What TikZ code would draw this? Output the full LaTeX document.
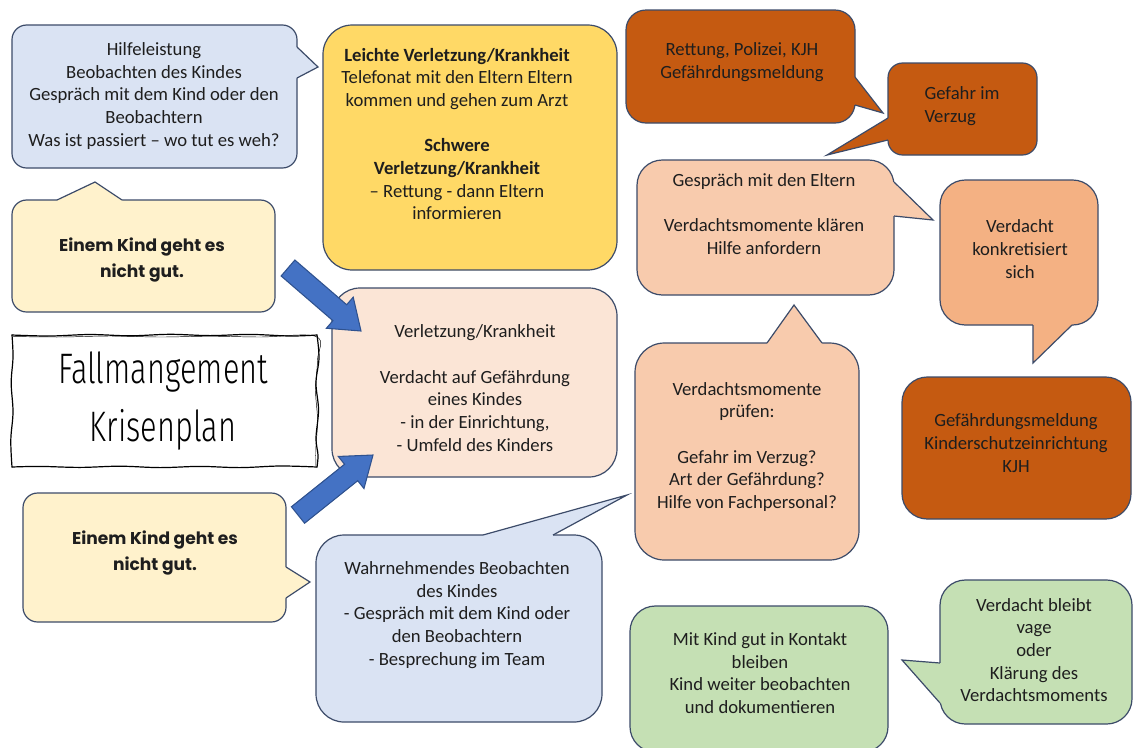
\documentclass[tikz,border=0pt]{standalone}
\usepackage{fontspec}
\setmainfont{Carlito}
\IfFontExistsTF{Poppins}{\newfontfamily\comicf{Poppins}}{\newfontfamily\comicf{DejaVu Sans}}
\IfFontExistsTF{Fira Sans Light}{\newfontfamily\handf{Fira Sans Light}}{\newfontfamily\handf{Fira Sans}}
\usetikzlibrary{calc}
\definecolor{lnc}{RGB}{60,75,105}
\definecolor{txc}{RGB}{30,30,30}
\definecolor{cblue}{HTML}{DAE3F3}
\definecolor{cyel}{HTML}{FFF2CC}
\definecolor{cgold}{HTML}{FFD966}
\definecolor{cpeachl}{HTML}{FBE5D6}
\definecolor{cpeach}{HTML}{F8CBAD}
\definecolor{corange}{HTML}{F4B183}
\definecolor{cdark}{HTML}{C55A11}
\definecolor{cgreen}{HTML}{C5E0B4}
\definecolor{arrblue}{HTML}{4472C4}
\definecolor{arrline}{HTML}{2F528F}
\newcommand\ctail[5]{%
  \fill[#1] #2 -- #3 -- #4 -- ($#4+#5$) -- ($#2+#5$) -- cycle;
  \draw[draw=lnc, line width=0.9pt, line join=miter] #2 -- #3 -- #4;}
\newcommand\blockarrow[2]{%
  \coordinate (#2-b) at ($(#2)!21pt!(#1)$);
  \draw[fill=arrblue, draw=arrline, line width=0.8pt, line join=miter]
    ($(#1)!7.9pt!90:(#2)$) -- ($(#2-b)!7.9pt!90:(#2)$) -- ($(#2-b)!15.4pt!90:(#2)$)
    -- (#2) -- ($(#2-b)!15.4pt!-90:(#2)$) -- ($(#2-b)!7.9pt!-90:(#2)$)
    -- ($(#1)!7.9pt!-90:(#2)$) -- cycle;}
\tikzset{
  rb/.style n args={4}{minimum width={(#3-#1)*0.75pt}, minimum height={(#4-#2)*0.75pt},
     at={({(#1+#3)/2},{(#2+#4)/2})}},
  bx/.style={shape=rectangle, draw=lnc, line width=0.9pt, rounded corners=#1, inner sep=0pt},
  tx/.style={align=center, font=\fontsize{14}{17}\selectfont, text=txc, inner sep=0pt},
  cx/.style={align=center, font=\comicf\bfseries\fontsize{12.8}{19.5}\selectfont, text=txc, inner sep=0pt},
  sk/.style={draw=black, line width=#1, line join=round, line cap=round},
}
\begin{document}
\begin{tikzpicture}[x=0.75pt,y=-0.75pt]
\useasboundingbox (0,0) rectangle (1134,747);
\fill[white] (0,0) rectangle (1134,747);

% Hilfeleistung
\node[bx=11pt, fill=cblue, rb={12}{25}{297}{168}] (hilfe) {};
\ctail{cblue}{(297,47)}{(318,67)}{(297,78)}{(-4,0)}
\node[tx] (hilfe-t) at (154,96) {Hilfeleistung\\Beobachten des Kindes\\Gespräch mit dem Kind oder den\\Beobachtern\\Was ist passiert – wo tut es weh?};

% Einem Kind 1
\node[bx=11pt, fill=cyel, rb={12}{200}{275}{312}] (kind1) {};
\ctail{cyel}{(57,200)}{(95,182)}{(122,200)}{(0,4)}
\node[cx] (kind1-t) at (142,260) {Einem Kind geht es\\nicht gut.};

% Title (hand-drawn frame)
\node[rb={12}{335}{317}{467}, inner sep=0pt] (title) {};
\draw[sk=0.9pt] plot[smooth, tension=0.6] coordinates {(12,335) (50,336) (90,334.5) (130,335.8) (170,334.3) (210,335.6) (250,334.4) (290,336) (317,335)};
\draw[sk=0.9pt] plot[smooth, tension=0.6] coordinates {(317,335) (319,358) (316,383) (318.5,410) (316,438) (318,455) (317,467)};
\draw[sk=0.9pt] plot[smooth, tension=0.6] coordinates {(317,467) (280,466) (240,467.6) (200,466.4) (160,467.6) (120,466.2) (80,467.4) (40,466.4) (12,467)};
\draw[sk=0.9pt] plot[smooth, tension=0.6] coordinates {(12,467) (10.8,440) (13,412) (11.2,383) (13,357) (12,335)};
\draw[sk=0.35pt] plot[smooth, tension=0.6] coordinates {(13,336.5) (60,337) (110,336) (160,337) (210,336.2) (260,337) (316,336.5) (317.5,360) (315.5,390) (317.5,420) (315.8,450) (316,466)};
\node[font=\handf\fontsize{32}{43.5}\selectfont, align=center, inner sep=0pt, text=black] (title-t) at (163,401)
  {\scalebox{0.72}[1]{Fallmangement}\\\scalebox{0.72}[1]{Krisenplan}};

% Einem Kind 2
\node[bx=11pt, fill=cyel, rb={23}{493}{286}{622}] (kind2) {};
\ctail{cyel}{(286,567)}{(310,582)}{(286,598)}{(-4,0)}
\node[cx] (kind2-t) at (155,553) {Einem Kind geht es\\nicht gut.};

% Gold box
\node[bx=22pt, fill=cgold, rb={323}{25}{617}{270}] (gold) {};
\node[tx] (gold-t) at (457,134) {\textbf{Leichte Verletzung/Krankheit}\\Telefonat mit den Eltern Eltern\\kommen und gehen zum Arzt\\[17pt]\textbf{Schwere}\\\textbf{Verletzung/Krankheit}\\– Rettung - dann Eltern\\informieren};

% Center peach box
\node[bx=21pt, fill=cpeachl, rb={332}{288}{617}{477}] (verl) {};
\node[tx] (verl-t) at (475,388) {Verletzung/Krankheit\\[17pt]Verdacht auf Gefährdung\\eines Kindes\\- in der Einrichtung,\\- Umfeld des Kinders};

% Wahrnehmendes
\node[bx=21pt, fill=cblue, rb={316}{535}{602}{722}] (wahr) {};
\ctail{cblue}{(483,535)}{(627,495)}{(553,535)}{(0,4)}
\node[tx] (wahr-t) at (457,615) {Wahrnehmendes Beobachten\\des Kindes\\- Gespräch mit dem Kind oder\\den Beobachtern\\- Besprechung im Team};

% Rettung
\node[bx=15pt, fill=cdark, rb={626}{10}{855}{123}] (rett) {};
\ctail{cdark}{(855,77)}{(883,113)}{(855,105)}{(-4,0)}
\node[tx] (rett-t) at (742,62) {Rettung, Polizei, KJH\\Gefährdungsmeldung};

% Gefahr im Verzug
\node[bx=11pt, fill=cdark, rb={888}{63}{1037}{155}] (gefahr) {};
\ctail{cdark}{(888,118)}{(827,155)}{(888,140)}{(4,0)}
\node[tx, align=left] (gefahr-t) at (962,106) {Gefahr im\\Verzug};

% Gespraech mit den Eltern
\node[bx=19pt, fill=cpeach, rb={637}{160}{894}{295}] (gesp) {};
\ctail{cpeach}{(894,182)}{(933,220)}{(894,216)}{(-4,0)}
\node[tx] (gesp-t) at (764,214) {Gespräch mit den Eltern\\[17pt]Verdachtsmomente klären\\Hilfe anfordern};

% Verdacht konkretisiert sich
\node[bx=19pt, fill=corange, rb={940}{180}{1098}{325}] (konk) {};
\ctail{corange}{(1033,325)}{(1033,363)}{(1072,325)}{(0,-4)}
\node[tx] (konk-t) at (1020,249) {Verdacht\\konkretisiert\\sich};

% Verdachtsmomente pruefen
\node[bx=22pt, fill=cpeach, rb={635}{343}{859}{560}] (pruef) {};
\ctail{cpeach}{(767,343)}{(794,305)}{(822,343)}{(0,4)}
\node[tx] (pruef-t) at (747,447) {Verdachtsmomente\\prüfen:\\[17pt]Gefahr im Verzug?\\Art der Gefährdung?\\Hilfe von Fachpersonal?};

% Gefaehrdungsmeldung
\node[bx=19pt, fill=cdark, rb={902}{377}{1131}{519}] (gefm) {};
\node[tx] (gefm-t) at (1016,443) {Gefährdungsmeldung\\Kinderschutzeinrichtung\\KJH};

% Gruen
\node[bx=19pt, fill=cgreen, rb={630}{606}{888}{752}] (gruen) {};
\node[tx] (gruen-t) at (760,673) {Mit Kind gut in Kontakt\\bleiben\\Kind weiter beobachten\\und dokumentieren};

% Vage
\node[bx=19pt, fill=cgreen, rb={940}{580}{1132}{724}] (vage) {};
\ctail{cgreen}{(940,663)}{(902,660)}{(940,703)}{(4,0)}
\node[tx] (vage-t) at (1034,650) {Verdacht bleibt\\vage\\oder\\Klärung des\\Verdachtsmoments};

% Block arrows
\coordinate (a1s) at (288,268);
\coordinate (a1e) at (361,331);
\coordinate (a2s) at (298,515);
\coordinate (a2e) at (373,455);
\blockarrow{a1s}{a1e}
\blockarrow{a2s}{a2e}
\end{tikzpicture}
\end{document}
